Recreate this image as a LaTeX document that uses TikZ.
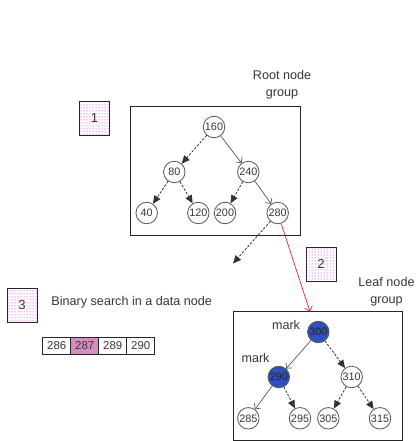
\documentclass[tikz,border=0pt]{standalone}
\usepackage{fontspec}
\setmainfont{Liberation Sans}
\usetikzlibrary{arrows.meta,patterns}
\definecolor{markblue}{RGB}{48,80,190}
\definecolor{cellpink}{RGB}{214,140,190}
\definecolor{txt}{RGB}{55,55,55}
\definecolor{edgec}{RGB}{85,85,85}
\definecolor{dotpink}{RGB}{235,0,235}
\definecolor{redc}{RGB}{230,40,40}
\begin{document}
\begin{tikzpicture}[x=1pt,y=-1pt,
  tn/.style={circle, draw=edgec, line width=0.8pt, minimum size=21.5pt, inner sep=0pt,
             font=\fontsize{10.8}{12}\selectfont, text=txt, fill=white},
  bn/.style={tn, fill=markblue, text=black!85},
  grp/.style={draw=black!85, line width=0.9pt},
  lbox/.style={draw=black!85, line width=0.9pt, minimum width=30pt, minimum height=34pt,
               inner sep=0pt, pattern=dots, pattern color=dotpink,
               font=\fontsize{13}{15}\selectfont, text=txt},
  lbl/.style={font=\fontsize{12.6}{17}\selectfont, text=txt, align=center, inner sep=0pt},
  cell/.style={draw=black!85, line width=0.8pt, minimum width=28pt, minimum height=17pt,
               inner sep=0pt, font=\fontsize{11.4}{13}\selectfont, text=txt},
  sa/.style={draw=edgec, line width=0.7pt, -{Straight Barb[length=4pt,width=8pt]}},
  da/.style={draw=black!80, line width=0.8pt, dash pattern=on 2.5pt off 1.5pt,
             -{Triangle[length=8pt,width=7pt]}},
  ra/.style={draw=redc, line width=0.7pt, -{Straight Barb[length=4.5pt,width=8pt]}}
]
\useasboundingbox (0,0) rectangle (416,441);
\fill[white] (0,0) rectangle (416,441);

% group boxes
\draw[grp] (130,106) rectangle (300.5,235.5);
\draw[grp] (233.3,311.7) rectangle (402.7,440);

% labels
\node[lbl] (rootlbl) at (282,84.5) {Root node\\group};
\node[lbl] (leaflbl) at (386.5,291.5) {Leaf node\\group};
\node[lbl] (bintxt) at (131.7,302) {Binary search in a data node};
\node[lbl] (mark1) at (286,325) {mark};
\node[lbl] (mark2) at (255.5,358.3) {mark};

% numbered boxes
\node[lbox] (box1) at (94.5,118) {1};
\node[lbox] (box2) at (321,264) {2};
\node[lbox] (box3) at (22,305) {3};

% array
\node[cell] (c1) at (56.7,346) {286};
\node[cell, fill=cellpink] (c2) at (84.7,346) {287};
\node[cell] (c3) at (112.7,346) {289};
\node[cell] (c4) at (140.7,346) {290};

% root tree
\node[tn] (n160) at (214,127) {160};
\node[tn] (n80) at (174.3,172) {80};
\node[tn] (n240) at (248.3,172) {240};
\node[tn] (n40) at (146.7,213) {40};
\node[tn] (n120) at (198.3,213) {120};
\node[tn] (n200) at (225,213) {200};
\node[tn] (n280) at (277.7,213) {280};

% leaf tree
\node[bn] (n300) at (318.3,332) {300};
\node[bn] (n290) at (278.8,377) {290};
\node[tn] (n310) at (351.7,377) {310};
\node[tn] (n285) at (248.3,418.3) {285};
\node[tn] (n295) at (300,418.3) {295};
\node[tn] (n305) at (328.3,418.3) {305};
\node[tn] (n315) at (380,418.3) {315};

\coordinate (dangle) at (233,263.5);
\coordinate (leaftop) at (310,311.7);

% root edges
\draw[da] (n160) -- (n80);
\draw[sa] (n160) -- (n240);
\draw[da] (n80) -- (n40);
\draw[da] (n80) -- (n120);
\draw[da] (n240) -- (n200);
\draw[sa] (n240) -- (n280);
\draw[da] (n280) -- (dangle);
\draw[ra] (n280) -- (leaftop);

% leaf edges
\draw[sa] (n300) -- (n290);
\draw[da] (n300) -- (n310);
\draw[sa] (n290) -- (n285);
\draw[da] (n290) -- (n295);
\draw[da] (n310) -- (n305);
\draw[da] (n310) -- (n315);
\end{tikzpicture}
\end{document}
